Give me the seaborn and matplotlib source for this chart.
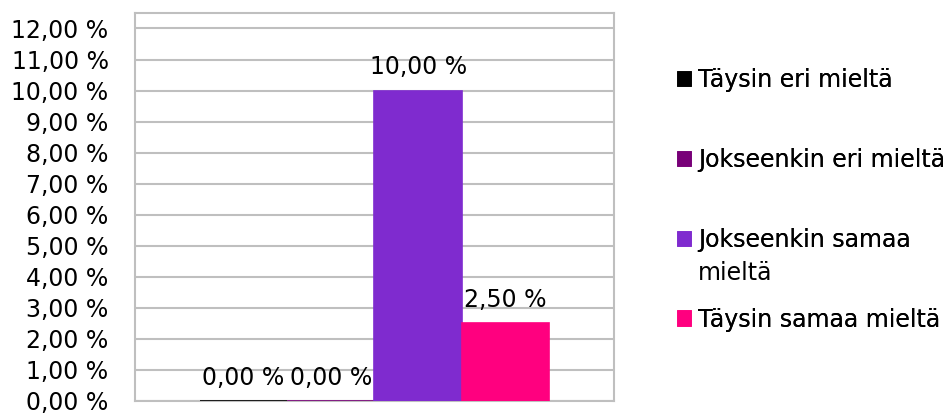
import matplotlib
matplotlib.use("Agg")
import matplotlib.pyplot as plt
import seaborn as sns
import pandas as pd

# values (percent)
categories = ["Täysin eri mieltä", "Jokseenkin eri mieltä",
              "Jokseenkin samaa mieltä", "Täysin samaa mieltä"]
values     = [0.0, 0.0, 10.0, 2.5]
colors     = ["#000000", "#780078", "#7F2BCF", "#FF007F"]
yticks     = list(range(0, 13))

FS = 17
sns.set_style("white")
plt.rcParams.update({'font.family'    : ['DejaVu Sans'],
                     'font.size'      : FS,
                     'text.color'     : 'black',
                     'ytick.color'    : 'black',
                     'axes.linewidth' : 1.5})

df = pd.DataFrame({'group': [''] * len(categories),
                   'category': categories,
                   'value': values})

fig = plt.figure(figsize=(9.46, 4.15), dpi=100)
ax = fig.add_axes([0.1427, 0.0345, 0.5063, 0.9342])

sns.barplot(data=df, x='group', y='value', hue='category',
            hue_order=categories, palette=colors, width=0.73,
            saturation=1, ax=ax, legend=True, zorder=3)

# thin edge so the zero bars still show as a line on the baseline
for patch in ax.patches:
    patch.set_edgecolor(patch.get_facecolor())
    patch.set_linewidth(1.2)

for cont in ax.containers:
    labs = [f"{v:.2f} %".replace('.', ',') for v in cont.datavalues]
    ax.bar_label(cont, labels=labs, padding=8, fontsize=FS, color='black', zorder=4)

ax.set_ylim(0, 12.5)
ax.set_xlim(-0.5, 0.5)
ax.set_yticks(yticks)
ax.set_yticklabels([f"{t:.2f} %".replace('.', ',') for t in yticks])
ax.tick_params(axis='y', length=0, pad=19, labelsize=FS, labelcolor='black')
ax.tick_params(axis='x', length=0)
ax.set_xticks([])
ax.set_xlabel('')
ax.set_ylabel('')
ax.yaxis.grid(True, color='#BFBFBF', linewidth=1.5, zorder=0)
ax.set_axisbelow(True)
for s in ax.spines.values():
    s.set_color('#BFBFBF')
    s.set_linewidth(1.5)

# legend: one entry per row, evenly spaced like the original
handles, labels = ax.get_legend_handles_labels()
ax.get_legend().remove()
leg_y = [0.807, 0.6145, 0.4217, 0.229]
for h, lab, y in zip(handles, labels, leg_y):
    if lab == "Jokseenkin samaa mieltä":
        lab = "Jokseenkin samaa"
    lg = fig.legend([h], [lab], loc='center left', bbox_to_anchor=(0.7167, y),
                    frameon=False, handlelength=0.55, handleheight=0.55,
                    handletextpad=0.3, fontsize=FS, borderaxespad=0, borderpad=0)
    fig.add_artist(lg)
fig.text(0.738, 0.342, "mieltä", fontsize=FS, va='center', ha='left')

plt.savefig('out.png', dpi=100)
